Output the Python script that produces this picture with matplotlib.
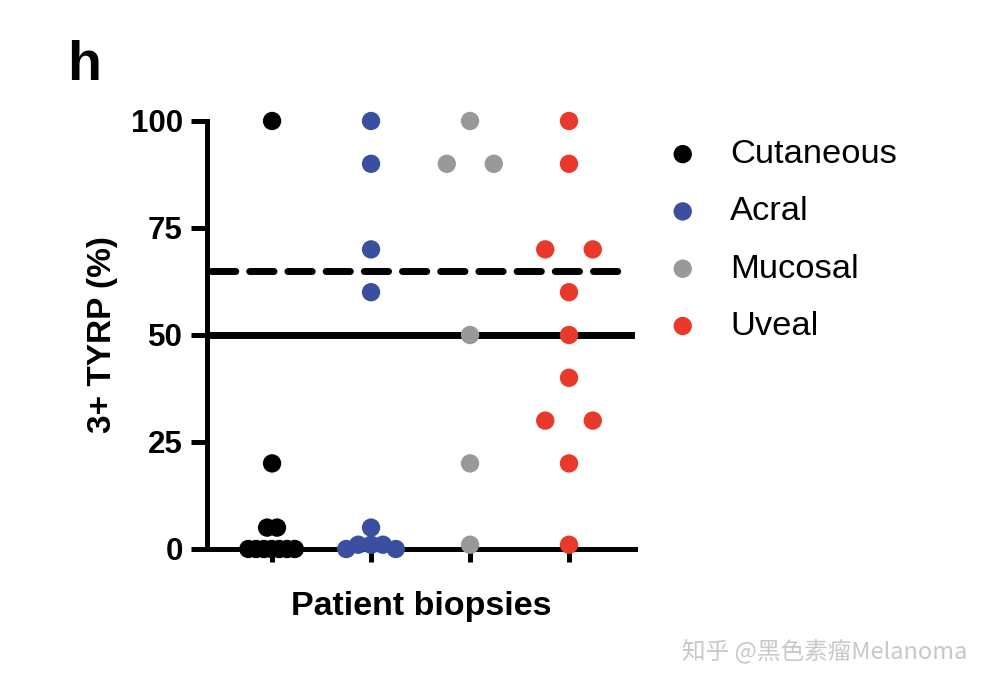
import matplotlib
matplotlib.use('Agg')
import matplotlib.pyplot as plt
import numpy as np

plt.rcParams['font.family'] = ['Liberation Sans', 'DejaVu Sans']

# data (% 3+ TYRP per biopsy)
groups = ['Cutaneous', 'Acral', 'Mucosal', 'Uveal']
colors = ['#000000', '#3a4fa0', '#999999', '#e8392b']
cutaneous = [100, 20, 5, 5, 0, 0, 0, 0, 0, 0, 0]
acral = [100, 90, 70, 60, 5, 0, 1, 1, 1, 0]
mucosal = [100, 90, 90, 50, 20, 1]
uveal = [100, 90, 70, 70, 60, 50, 40, 30, 30, 20, 1]
cutoff_dashed = 65
cutoff_solid = 50
yticks = [0, 25, 50, 75, 100]

# swarm layout (horizontal offsets within each column)
cut_dx = [0, 0, -0.05, 0.05] + list(np.linspace(-0.24, 0.23, 7))
acr_dx = [0, 0, 0, 0, 0, -0.25, -0.13, 0, 0.12, 0.25]
muc_dx = [0, -0.235, 0.24, 0, 0, 0]
uve_dx = [0, 0, -0.24, 0.24, 0, 0, 0, -0.24, 0.24, 0, 0]

values = [cutaneous, acral, mucosal, uveal]
offsets = [cut_dx, acr_dx, muc_dx, uve_dx]

fig = plt.figure(figsize=(9.93, 6.91), dpi=100)
ax = fig.add_axes([0.2085, 0.2055, 0.431, 0.6194])

lw = 3.6
ax.axhline(cutoff_solid, color='k', lw=5.0, solid_capstyle='round', zorder=1)
dash = ax.axhline(cutoff_dashed, xmin=0.01, xmax=0.97, color='k', lw=5.0,
                  dash_capstyle='round', zorder=1)
dash.set_dashes((17.5 / 5.0, 10.0 / 5.0))

for i, (vals, dx) in enumerate(zip(values, offsets)):
    x = i + np.array(dx)
    ax.scatter(x, vals, s=175, color=colors[i], edgecolors='none',
               clip_on=False, zorder=3, label=groups[i])

ax.set_xlim(-0.657, 3.667)
ax.set_ylim(0, 100)
ax.set_yticks(yticks)
ax.set_xticks(range(len(groups)))
ax.set_xticklabels([])

for side in ['top', 'right']:
    ax.spines[side].set_visible(False)
for side in ['left', 'bottom']:
    ax.spines[side].set_linewidth(lw)
    ax.spines[side].set_capstyle('projecting')

ax.tick_params(axis='y', length=11.5, width=lw, labelsize=22.5, pad=6)
ax.tick_params(axis='x', length=9, width=lw)
for t in ax.get_yticklabels():
    t.set_fontweight('bold')

ax.set_ylabel('3+ TYRP (%)', fontsize=24, fontweight='bold', labelpad=9)
ax.set_xlabel('Patient biopsies', fontsize=24.5, fontweight='bold', labelpad=18)

leg = ax.legend(loc='upper left', bbox_to_anchor=(1.035, 0.99), frameon=False,
                fontsize=24.8, handletextpad=0.82, labelspacing=0.76,
                handlelength=1.1, borderaxespad=0)

fig.text(0.068, 0.905, 'h', fontsize=40, fontweight='bold', va='center')

fig.text(0.687, 0.058, '知乎 @黑色素瘤Melanoma', fontsize=17, color='#c8c8c8',
         family=['Noto Sans CJK SC', 'DejaVu Sans'], va='center')

plt.savefig('out.png', dpi=100)
plt.close()
